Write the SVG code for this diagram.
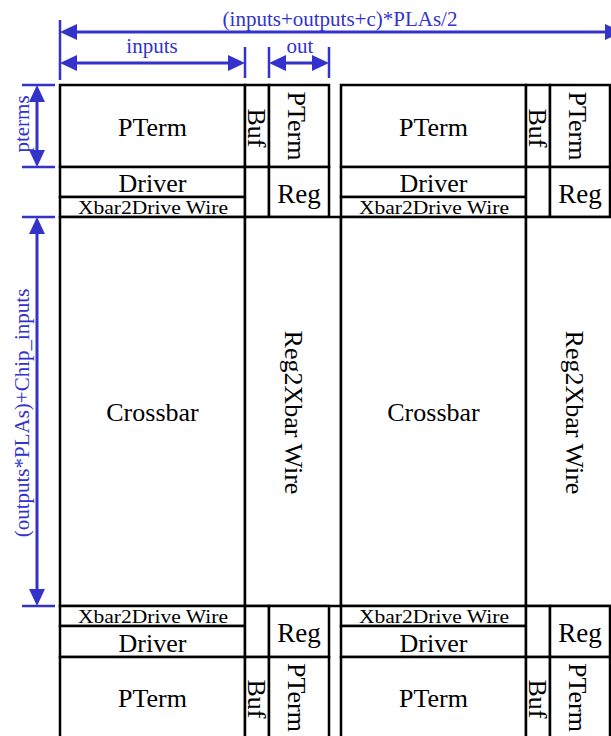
<svg xmlns="http://www.w3.org/2000/svg" width="611" height="736" viewBox="0 0 611 736">
<defs>
<marker id="ah" markerUnits="userSpaceOnUse" markerWidth="17" markerHeight="16" refX="7" refY="8" orient="auto-start-reverse" viewBox="0 0 17 16"><path d="M0,0 L17,8 L0,16 z" fill="#3333CC"/></marker>
</defs>
<style>
.box{fill:#fff;stroke:#000;stroke-width:2.5}
.lbl{font-family:"Liberation Serif","Times New Roman",serif;font-size:26px;fill:#000;text-anchor:middle}
.sm{font-size:19px}
.rg{font-size:27px}
.dim{stroke:#3333CC;stroke-width:3;fill:none;marker-start:url(#ah);marker-end:url(#ah)}
.ext{stroke:#3333CC;stroke-width:2.5}
.dt{font-family:"Liberation Serif","Times New Roman",serif;font-size:21px;fill:#3333CC;text-anchor:middle}
</style>
<rect width="611" height="736" fill="#fff"/>

<g id="block1">
<g id="b1-pterm"><rect class="box" x="60" y="85" width="185" height="82"/><text class="lbl" x="152.5" y="136">PTerm</text></g>
<g id="b1-buf"><rect class="box" x="245" y="85" width="24" height="82"/><text class="lbl" transform="translate(248,128) rotate(90)">Buf</text></g>
<g id="b1-pterm-col"><rect class="box" x="269" y="85" width="60" height="82"/><text class="lbl" transform="translate(288,126) rotate(90)">PTerm</text></g>
<g id="b1-driver"><rect class="box" x="60" y="167" width="185" height="30"/><text class="lbl" x="152.5" y="192">Driver</text></g>
<g id="b1-xbar2drive"><rect class="box" x="60" y="197" width="185" height="20"/><text class="lbl sm" x="153" y="214" textLength="150" lengthAdjust="spacingAndGlyphs">Xbar2Drive Wire</text></g>
<g id="b1-gap"><rect class="box" x="245" y="167" width="24" height="50"/></g>
<g id="b1-reg"><rect class="box" x="269" y="167" width="60" height="50"/><text class="lbl rg" x="299" y="203">Reg</text></g>
<g id="b1-crossbar"><rect class="box" x="60" y="217" width="185" height="389"/><text class="lbl" x="152.5" y="421">Crossbar</text></g>
<g id="b1-reg2xbar"><rect class="box" x="245" y="217" width="96" height="389"/><text class="lbl" transform="translate(285,412.5) rotate(90)">Reg2Xbar Wire</text></g>
<g id="b1-xbar2drive-b"><rect class="box" x="60" y="606" width="185" height="20"/><text class="lbl sm" x="153" y="623" textLength="150" lengthAdjust="spacingAndGlyphs">Xbar2Drive Wire</text></g>
<g id="b1-driver-b"><rect class="box" x="60" y="626" width="185" height="31"/><text class="lbl" x="152.5" y="652">Driver</text></g>
<g id="b1-pterm-b"><rect class="box" x="60" y="657" width="185" height="90"/><text class="lbl" x="152.5" y="707">PTerm</text></g>
<g id="b1-gap-b"><rect class="box" x="245" y="606" width="24" height="51"/></g>
<g id="b1-reg-b"><rect class="box" x="269" y="606" width="60" height="51"/><text class="lbl rg" x="299" y="642">Reg</text></g>
<g id="b1-buf-b"><rect class="box" x="245" y="657" width="24" height="90"/><text class="lbl" transform="translate(248,699) rotate(90)">Buf</text></g>
<g id="b1-pterm-col-b"><rect class="box" x="269" y="657" width="60" height="90"/><text class="lbl" transform="translate(288,697.5) rotate(90)">PTerm</text></g>
</g>

<g id="block2" transform="translate(281,0)">
<g id="b2-pterm"><rect class="box" x="60" y="85" width="185" height="82"/><text class="lbl" x="152.5" y="136">PTerm</text></g>
<g id="b2-buf"><rect class="box" x="245" y="85" width="24" height="82"/><text class="lbl" transform="translate(248,128) rotate(90)">Buf</text></g>
<g id="b2-pterm-col"><rect class="box" x="269" y="85" width="60" height="82"/><text class="lbl" transform="translate(288,126) rotate(90)">PTerm</text></g>
<g id="b2-driver"><rect class="box" x="60" y="167" width="185" height="30"/><text class="lbl" x="152.5" y="192">Driver</text></g>
<g id="b2-xbar2drive"><rect class="box" x="60" y="197" width="185" height="20"/><text class="lbl sm" x="153" y="214" textLength="150" lengthAdjust="spacingAndGlyphs">Xbar2Drive Wire</text></g>
<g id="b2-gap"><rect class="box" x="245" y="167" width="24" height="50"/></g>
<g id="b2-reg"><rect class="box" x="269" y="167" width="60" height="50"/><text class="lbl rg" x="299" y="203">Reg</text></g>
<g id="b2-crossbar"><rect class="box" x="60" y="217" width="185" height="389"/><text class="lbl" x="152.5" y="421">Crossbar</text></g>
<g id="b2-reg2xbar"><rect class="box" x="245" y="217" width="96" height="389"/><text class="lbl" transform="translate(285,412.5) rotate(90)">Reg2Xbar Wire</text></g>
<g id="b2-xbar2drive-b"><rect class="box" x="60" y="606" width="185" height="20"/><text class="lbl sm" x="153" y="623" textLength="150" lengthAdjust="spacingAndGlyphs">Xbar2Drive Wire</text></g>
<g id="b2-driver-b"><rect class="box" x="60" y="626" width="185" height="31"/><text class="lbl" x="152.5" y="652">Driver</text></g>
<g id="b2-pterm-b"><rect class="box" x="60" y="657" width="185" height="90"/><text class="lbl" x="152.5" y="707">PTerm</text></g>
<g id="b2-gap-b"><rect class="box" x="245" y="606" width="24" height="51"/></g>
<g id="b2-reg-b"><rect class="box" x="269" y="606" width="60" height="51"/><text class="lbl rg" x="299" y="642">Reg</text></g>
<g id="b2-buf-b"><rect class="box" x="245" y="657" width="24" height="90"/><text class="lbl" transform="translate(248,699) rotate(90)">Buf</text></g>
<g id="b2-pterm-col-b"><rect class="box" x="269" y="657" width="60" height="90"/><text class="lbl" transform="translate(288,697.5) rotate(90)">PTerm</text></g>
</g>

<g id="dimensions">
<line class="ext" x1="60" y1="20" x2="60" y2="80"/>
<line class="ext" x1="245" y1="47" x2="245" y2="78"/>
<line class="ext" x1="269" y1="47" x2="269" y2="78"/>
<line class="ext" x1="329" y1="47" x2="329" y2="78"/>
<line class="dim" x1="70" y1="32" x2="612" y2="32"/>
<line class="dim" x1="70" y1="63" x2="235" y2="63"/>
<line class="dim" x1="279" y1="63" x2="319" y2="63"/>
<line class="ext" x1="22" y1="85" x2="55" y2="85"/>
<line class="ext" x1="22" y1="167" x2="55" y2="167"/>
<line class="dim" x1="37" y1="95" x2="37" y2="157"/>
<line class="ext" x1="22" y1="217" x2="55" y2="217"/>
<line class="ext" x1="22" y1="606" x2="55" y2="606"/>
<line class="dim" x1="37" y1="227" x2="37" y2="596"/>
<text class="dt" x="340" y="26">(inputs+outputs+c)*PLAs/2</text>
<text class="dt" x="152" y="53">inputs</text>
<text class="dt" x="300" y="53">out</text>
<text class="dt" transform="translate(29,124) rotate(-90)">pterms</text>
<text class="dt" transform="translate(29,413) rotate(-90)">(outputs*PLAs)+Chip_inputs</text>
</g>
</svg>
